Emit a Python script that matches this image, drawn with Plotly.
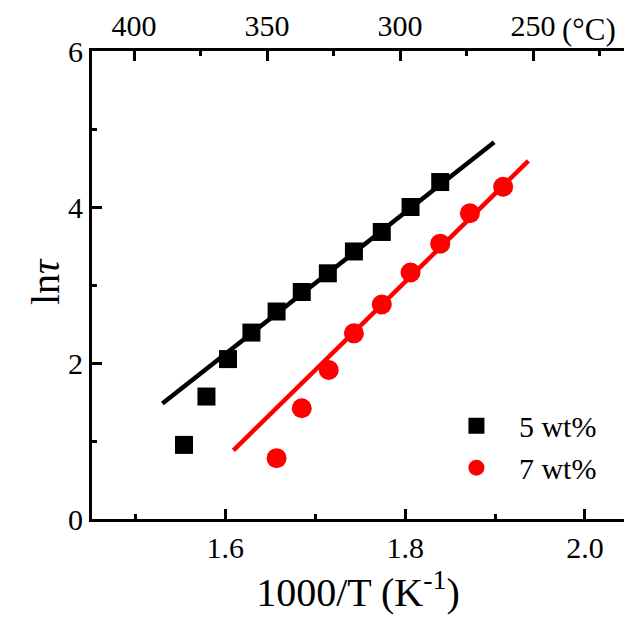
import plotly.graph_objects as go

# Data
x_5wt = [1.554, 1.579, 1.603, 1.629, 1.657, 1.685, 1.714, 1.743, 1.774, 1.806, 1.839]
y_5wt = [0.95, 1.57, 2.05, 2.39, 2.66, 2.91, 3.15, 3.43, 3.68, 4.00, 4.32]
x_7wt = [1.657, 1.685, 1.715, 1.743, 1.774, 1.806, 1.839, 1.872, 1.909]
y_7wt = [0.78, 1.42, 1.91, 2.38, 2.75, 3.16, 3.53, 3.92, 4.26]

fit5_x = [1.530, 1.899]
fit5_y = [1.48, 4.83]
fit7_x = [1.609, 1.937]
fit7_y = [0.88, 4.59]

bottom_ticks = [1.6, 1.8, 2.0]
bottom_minor = [1.5, 1.7, 1.9]
left_ticks = [0, 2, 4, 6]
left_minor = [1, 3, 5]
top_ticks = [400, 350, 300, 250]
top_minor = [375, 325, 275, 225]

FONT = "Liberation Serif"
NB = "\u00a0"

fig = go.Figure()
fig.add_trace(go.Scatter(x=fit5_x, y=fit5_y, mode="lines",
                         line=dict(color="black", width=4.5), showlegend=False))
fig.add_trace(go.Scatter(x=fit7_x, y=fit7_y, mode="lines",
                         line=dict(color="#ff0000", width=4.5), showlegend=False))
fig.add_trace(go.Scatter(x=x_5wt, y=y_5wt, mode="markers", name=NB * 3 + "5 wt%",
                         marker=dict(symbol="square", size=18, color="black")))
fig.add_trace(go.Scatter(x=x_7wt, y=y_7wt, mode="markers", name=NB * 3 + "7 wt%",
                         marker=dict(symbol="circle", size=20, color="#ff0000")))
# invisible trace to activate top axis
fig.add_trace(go.Scatter(x=[300], y=[3], xaxis="x2", mode="markers",
                         marker=dict(opacity=0), showlegend=False, hoverinfo="skip"))

axis_common = dict(showline=True, linecolor="black", linewidth=3, ticks="inside",
                   ticklen=10, tickwidth=3, tickcolor="black", showgrid=False,
                   zeroline=False, tickfont=dict(family=FONT, size=30, color="black"))

fig.update_layout(
    width=624, height=617,
    margin=dict(l=92, r=0, t=51, b=98),
    plot_bgcolor="white", paper_bgcolor="white",
    xaxis=dict(range=[1.4517, 2.0434], tickvals=bottom_ticks,
               ticktext=[f"{v:.1f}" for v in bottom_ticks],
               minor=dict(tickvals=bottom_minor, ticks="inside", ticklen=5, tickwidth=3, tickcolor="black"),
               title=dict(text="1000/T (K<sup>-1</sup>)", font=dict(family=FONT, size=40, color="black"),
                          standoff=10),
               **axis_common),
    xaxis2=dict(range=[415.8, 215.8], overlaying="x", side="top", anchor="y",
                tickvals=top_ticks, ticktext=[str(v) for v in top_ticks],
                minor=dict(tickvals=top_minor, ticks="inside", ticklen=5, tickwidth=3, tickcolor="black"),
                **axis_common),
    yaxis=dict(range=[0, 6], tickvals=left_ticks, ticktext=[str(v) for v in left_ticks],
               minor=dict(tickvals=left_minor, ticks="inside", ticklen=5, tickwidth=3, tickcolor="black"),
               **axis_common),
    legend=dict(x=0.685, y=0.255, xanchor="left", yanchor="top",
                font=dict(family=FONT, size=30, color="black"),
                bgcolor="rgba(0,0,0,0)", itemsizing="trace", tracegroupgap=0),
    annotations=[
        dict(text="(°C)", xref="paper", yref="paper", x=(560 - 92) / 532,
             y=(519 - 30) / 468, xanchor="left", yanchor="middle", showarrow=False,
             font=dict(family=FONT, size=31, color="black")),
        dict(text="ln<i>τ</i>", xref="paper", yref="paper", x=(45 - 92) / 532,
             y=(519 - 282) / 468, xanchor="center", yanchor="middle", showarrow=False,
             textangle=-90, font=dict(family=FONT, size=40, color="black")),
    ],
)

fig.write_html("out.html")
